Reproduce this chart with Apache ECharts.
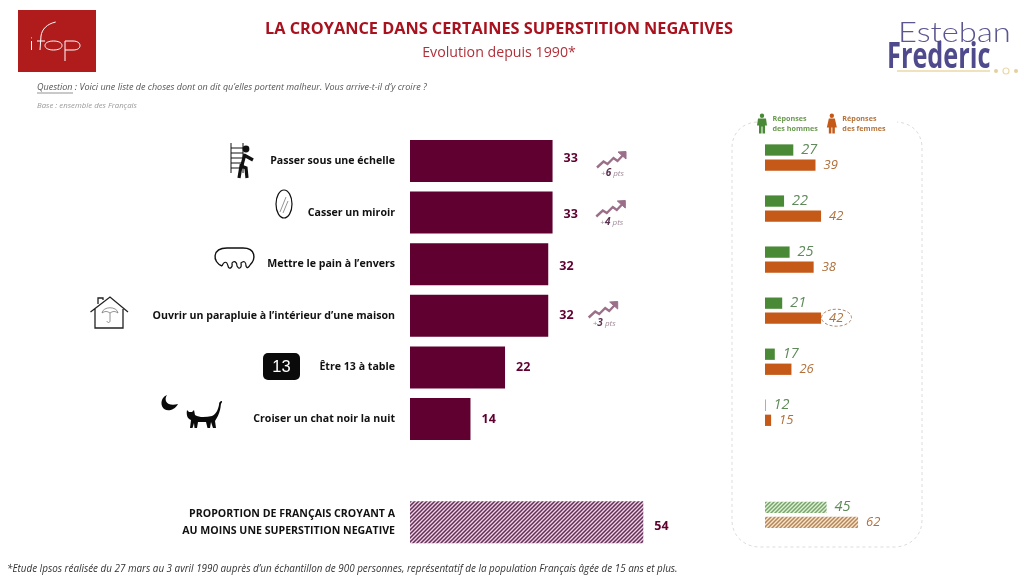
<!DOCTYPE html>
<html>
<head>
<meta charset="utf-8">
<title>La croyance dans certaines superstition negatives</title>
<style>
  html, body { margin: 0; padding: 0; background: #fff; }
  #chart { width: 1024px; height: 582px; }
</style>
<script src="https://cdn.jsdelivr.net/npm/echarts@6/dist/echarts.min.js"></script>
</head>
<body>
<div id="chart"></div>
<script>
// valeurs
var categories = [
  'Passer sous une échelle',
  'Casser un miroir',
  'Mettre le pain à l’envers',
  'Ouvrir un parapluie à l’intérieur d’une maison',
  'Être 13 à table',
  'Croiser un chat noir la nuit',
  '',
  'PROPORTION DE FRANÇAIS CROYANT A\nAU MOINS UNE SUPERSTITION NEGATIVE'
];
var ensemble = [33, 33, 32, 32, 22, 14, null, 54];
var hommes = [27, 22, 25, 21, 17, 12, null, 45];
var femmes = [39, 42, 38, 42, 26, 15, null, 62];
var evolutions = [6, 4, null, 3, null, null, null, null];

var PURPLE = '#5f0030';
var GREEN = '#4a8a36';
var ORANGE = '#c55a18';
var SANS = '"Open Sans", sans-serif';

// les chiffres de l'original ne sont pas tous centres sur leur barre
var labelNudge = [-3, 1.5, 2, 0, 0, 0, 0, 4];

// motif de hachures ////
function hatch(light, dark) {
  var size = 4;
  var tile = document.createElement('canvas');
  tile.width = tile.height = size;
  var ctx = tile.getContext('2d');
  ctx.fillStyle = light;
  ctx.fillRect(0, 0, size, size);
  ctx.strokeStyle = dark;
  ctx.lineWidth = 1.5;
  ctx.beginPath();
  ctx.moveTo(-1, 1); ctx.lineTo(1, -1);
  ctx.moveTo(0, size); ctx.lineTo(size, 0);
  ctx.moveTo(size - 1, size + 1); ctx.lineTo(size + 1, size - 1);
  ctx.stroke();
  return { color: { image: tile, repeat: 'repeat' } };
}

// la derniere ligne (total) est hachuree
function barData(values, hatchStyle, nudge) {
  return values.map(function (v, i) {
    var item = { value: v };
    if (i === values.length - 1) item.itemStyle = hatchStyle;
    if (nudge) item.label = { offset: [0, nudge[i]] };
    return item;
  });
}

// le composant graphic n'a pas de type path : on enregistre chaque trace
var shapeCount = 0;
function pathType(d) {
  var name = 'trace' + (shapeCount++);
  echarts.graphic.registerShape(name, echarts.graphic.extendPath(d, {}));
  return name;
}
function text(x, y, str, font, color, align) {
  return { type: 'text', silent: true, style: { x: x, y: y, text: str, font: font, fill: color, align: align || 'left', verticalAlign: 'middle' } };
}
function stroke(d, color, w, extra) {
  return { type: pathType(d), silent: true, style: Object.assign({ fill: null, stroke: color, lineWidth: w }, extra || {}) };
}
function fill(d, color) {
  return { type: pathType(d), silent: true, style: { fill: color } };
}

var esteban = text(898, 33, 'Esteban', '300 28px Lato, sans-serif', '#5b5590');
esteban.scaleX = 1.17;
esteban.originX = 898;
esteban.originY = 33;
var frederic = text(887, 58.5, 'Frederic', 'bold 35px ' + SANS, '#4f4a8c');
frederic.scaleX = 0.723;
frederic.originX = 887;
frederic.originY = 58.5;

var graphics = [
  // logo ifop
  { type: 'rect', silent: true, shape: { x: 18, y: 10, width: 78, height: 62 }, style: { fill: '#b01c1c' } },
  stroke('M31.5 41V50M31.5 37.5V38.3M55.7 22C47 24 42 29 41 36L40 50M37 41H45', '#fff', 1),
  stroke('M45 45.5C45 42.5 49 41 53.5 41C58 41 62 42.5 62 45.5C62 48.5 58 50 53.5 50C49 50 45 48.5 45 45.5Z', '#fff', 1),
  stroke('M65 61V41H73C78 41 80 43.5 80 45.5C80 48 78 50 73 50H65', '#fff', 1),

  // logo Esteban Frederic
  esteban,
  frederic,
  stroke('M897 71H990', '#ecd9a8', 1.5),
  { type: 'circle', silent: true, shape: { cx: 996, cy: 71, r: 2 }, style: { fill: '#e4cf9e' } },
  { type: 'circle', silent: true, shape: { cx: 1006, cy: 71, r: 3 }, style: { fill: '#fff', stroke: '#ecd9a8', lineWidth: 1.2 } },
  { type: 'circle', silent: true, shape: { cx: 1016, cy: 71, r: 2 }, style: { fill: '#e4cf9e' } },

  // question et base
  text(37, 87.5, 'Question : Voici une liste de choses dont on dit qu’elles portent malheur. Vous arrive-t-il d’y croire ?', 'italic 9px ' + SANS, '#555'),
  stroke('M37 93H73', '#666', 0.7),
  text(37, 106, 'Base : ensemble des Français', 'italic 7.8px ' + SANS, '#999'),
  text(7, 569, '*Etude Ipsos réalisée du 27 mars au 3 avril 1990 auprès d’un échantillon de 900 personnes, représentatif de la population Français âgée de 15 ans et plus.', 'italic 9.87px ' + SANS, '#333'),

  // cadre pointille, ouvert en haut sous la legende
  stroke('M757 122C742 123 732 133 732 148V520C732 536 744 547 760 547H894C910 547 922 536 922 520V148C922 133 912 123 897 122', '#dcdcdc', 1, { lineDash: [3, 3] }),

  // echelle
  stroke('M231 143V173M243 143V173M231 148H243M231 153H243M231 158H243M231 163H243M231 168H243', '#111', 1),
  { type: 'circle', silent: true, shape: { cx: 246, cy: 149, r: 3.4 }, style: { fill: '#111' } },
  stroke('M245 154L242 165M239 178L241 166L246 168L247 178M244 155L253 160', '#111', 3.2),

  // miroir
  { type: 'ellipse', silent: true, shape: { cx: 284, cy: 204, rx: 8, ry: 14 }, style: { fill: null, stroke: '#111', lineWidth: 1.2 } },
  stroke('M280 212L286 197M283 213L288 201', '#666', 0.7),

  // pain
  stroke('M222 266C212 262 212 248 227 248L243 248C256 248 256 259 250 265', '#111', 1.4),
  stroke('M222 266C224 261 227 261 228 266C229 270 233 268 232 263C234 260 237 262 237 266C239 270 242 268 241 263C244 260 246 262 246 266C247 269 249 267 250 265', '#111', 1.2),

  // maison et parapluie
  stroke('M90.5 312L110 297L128 312M95 309V328H123V309M98 304V298H103V300', '#222', 1.3),
  stroke('M102 313C103 306 117 306 118 313C115 311 113 311 110 313C107 311 105 311 102 313ZM110 313V321C110 323 107 323 107 321', '#777', 0.8),

  // 13
  { type: 'rect', silent: true, shape: { x: 263, y: 353, width: 37, height: 27, r: 5 }, style: { fill: '#0a0a0a' } },
  text(281.5, 367, '13', '16.5px "Liberation Sans", sans-serif', '#fff', 'center'),

  // lune et chat
  fill('M167 395C163 401 168 407 178 404C175 410 168 411.5 165 409.5C160 406.5 160 398 167 395Z', '#0a0a0a'),
  fill('M187 410L189 412L192 412L194 410L195 415C200 418 206 417 212 416C216 414 218 410 219 405C219 402 220 401 222 401L222 402.5C220.5 403 221 407 220 410C219 414 217 418 215 421L216 428L213 428L211 422L210 428L207.5 428L206 422L198 422L197 428L194.5 428L194 423L192.5 428L190 428L191 420C188 419 186 416 187 410Z', '#0a0a0a'),

  // ellipse autour du 42
  { type: 'ellipse', silent: true, shape: { cx: 836.5, cy: 317.7, rx: 15, ry: 8.5 }, style: { fill: null, stroke: '#a0775a', lineWidth: 0.9, lineDash: [3, 2] } }
];

// fleches d'evolution, decalees depuis la premiere
var arrowShift = [[0, 0], [-0.7, 49], null, [-8.3, 150]];
var arrowLine = pathType('M597 167.5L603.5 161.5L607.5 164L613.5 158L617.5 161L625 153');
var arrowHead = pathType('M618 152L626 151.5L626 159Z');
evolutions.forEach(function (v, i) {
  if (v === null) return;
  var dx = arrowShift[i][0], dy = arrowShift[i][1];
  graphics.push({ type: arrowLine, silent: true, x: dx, y: dy, style: { fill: null, stroke: '#9b6f8a', lineWidth: 2.4 } });
  graphics.push({ type: arrowHead, silent: true, x: dx, y: dy, style: { fill: '#9b6f8a', stroke: '#9b6f8a', lineWidth: 1 } });
  graphics.push({
    type: 'text', silent: true, x: dx, y: dy,
    style: {
      x: 612.5, y: 173.5, align: 'center', verticalAlign: 'middle',
      text: '{p|+}{b|' + v + '}{p| pts}',
      rich: {
        p: { font: 'italic 8px ' + SANS, fill: '#a08a98' },
        b: { font: 'italic bold 10px ' + SANS, fill: '#5a3050' }
      }
    }
  });
});

var chart = echarts.init(document.getElementById('chart'), null, { renderer: 'canvas' });

chart.setOption({
  backgroundColor: '#fff',
  animation: false,
  title: {
    text: 'LA CROYANCE DANS CERTAINES SUPERSTITION NEGATIVES',
    subtext: 'Evolution depuis 1990*',
    left: 494,
    top: 16,
    textAlign: 'center',
    itemGap: 9,
    textStyle: { fontFamily: SANS, fontWeight: 'bold', fontSize: 16.3, color: '#a8121e' },
    subtextStyle: { fontFamily: SANS, fontSize: 14.2, color: '#b0303a' }
  },
  legend: {
    left: 752,
    top: 103,
    itemWidth: 11,
    itemHeight: 20,
    itemGap: 9,
    selectedMode: false,
    data: [
      {
        name: 'Réponses\ndes hommes',
        icon: 'path://M5 0a2.2 2.2 0 1 1 -0.01 0ZM1 5H9L10 12H8V20H5.5V13H4.5V20H2V12H0Z',
        textStyle: { color: '#6a9a50' }
      },
      {
        name: 'Réponses\ndes femmes',
        icon: 'path://M5 0a2.2 2.2 0 1 1 -0.01 0ZM2 5H8L10 14H8V20H5.5V14H4.5V20H2V14H0Z',
        textStyle: { color: '#b5743c' }
      }
    ],
    textStyle: { fontFamily: SANS, fontWeight: 'bold', fontSize: 7.2, lineHeight: 10, align: 'center', padding: [11, 0, 0, 0] }
  },
  grid: [
    { left: 410, top: 135.2, width: 432, height: 412.8 },
    { left: 765, top: 132, width: 185, height: 408.4 }
  ],
  // echelle tronquee pour le detail hommes / femmes
  xAxis: [
    { gridIndex: 0, type: 'value', min: 0, max: 100, show: false },
    { gridIndex: 1, type: 'value', min: 11.7, max: 111.7, show: false }
  ],
  yAxis: [
    {
      gridIndex: 0,
      type: 'category',
      inverse: true,
      data: categories,
      axisLine: { show: false },
      axisTick: { show: false },
      axisLabel: {
        margin: 15,
        interval: 0,
        align: 'right',
        fontFamily: SANS,
        fontWeight: 'bold',
        fontSize: 10.6,
        lineHeight: 17,
        color: '#111'
      }
    },
    {
      gridIndex: 1,
      type: 'category',
      inverse: true,
      data: categories,
      show: false
    }
  ],
  series: [
    {
      name: 'Ensemble',
      type: 'bar',
      xAxisIndex: 0,
      yAxisIndex: 0,
      barWidth: 42,
      itemStyle: { color: PURPLE },
      label: {
        show: true,
        position: 'right',
        distance: 11,
        fontFamily: SANS,
        fontWeight: 'bold',
        fontSize: 12.5,
        color: PURPLE
      },
      data: barData(ensemble, hatch('#e6d8e2', '#6a2a5c'), labelNudge)
    },
    {
      name: 'Réponses\ndes hommes',
      type: 'bar',
      xAxisIndex: 1,
      yAxisIndex: 1,
      barWidth: 11.3,
      barGap: '33%',
      itemStyle: { color: GREEN },
      label: {
        show: true,
        position: 'right',
        distance: 8,
        fontFamily: SANS,
        fontStyle: 'italic',
        fontSize: 14.5,
        color: '#5f8a5a'
      },
      data: barData(hommes, hatch('#e2efdc', '#76a566'))
    },
    {
      name: 'Réponses\ndes femmes',
      type: 'bar',
      xAxisIndex: 1,
      yAxisIndex: 1,
      barWidth: 11.3,
      itemStyle: { color: ORANGE },
      label: {
        show: true,
        position: 'right',
        distance: 8,
        fontFamily: SANS,
        fontStyle: 'italic',
        fontSize: 13,
        color: '#b0703c'
      },
      data: barData(femmes, hatch('#f2e6d8', '#bb854e'))
    }
  ],
  graphic: { elements: graphics }
});
</script>
</body>
</html>
